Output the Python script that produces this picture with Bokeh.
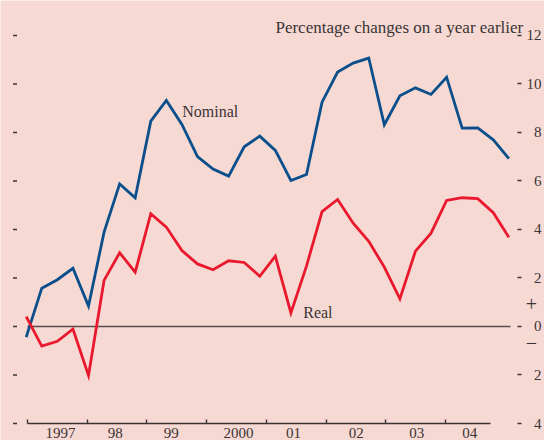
from bokeh.plotting import figure
from bokeh.models import FixedTicker, LinearAxis, Range1d, Label
from bokeh.embed import file_html
from bokeh.resources import INLINE

# ---- data (quarterly, % change on a year earlier) ----
quarters = [
    "1997Q1", "1997Q2", "1997Q3", "1997Q4",
    "1998Q1", "1998Q2", "1998Q3", "1998Q4",
    "1999Q1", "1999Q2", "1999Q3", "1999Q4",
    "2000Q1", "2000Q2", "2000Q3", "2000Q4",
    "2001Q1", "2001Q2", "2001Q3", "2001Q4",
    "2002Q1", "2002Q2", "2002Q3", "2002Q4",
    "2003Q1", "2003Q2", "2003Q3", "2003Q4",
    "2004Q1", "2004Q2", "2004Q3", "2004Q4",
]
nominal = [
    -0.44, 1.58, 1.93, 2.40, 0.84, 3.89, 5.88, 5.31,
    8.47, 9.32, 8.33, 7.01, 6.49, 6.20, 7.41, 7.85,
    7.26, 6.02, 6.27, 9.25, 10.49, 10.86, 11.07, 8.32,
    9.51, 9.84, 9.57, 10.28, 8.18, 8.19, 7.70, 6.92,
]
real = [
    0.41, -0.81, -0.61, -0.11, -2.02, 1.90, 3.04, 2.24,
    4.65, 4.10, 3.13, 2.58, 2.34, 2.71, 2.64, 2.07,
    2.90, 0.56, 2.49, 4.74, 5.24, 4.26, 3.51, 2.45,
    1.14, 3.11, 3.85, 5.20, 5.31, 5.27, 4.69, 3.68,
]
year_labels = ["1997", "98", "99", "2000", "01", "02", "03", "04"]
y_ticks = [-4, -2, 0, 2, 4, 6, 8, 10, 12]
y_tick_labels = ["\u20074", "\u20072", "\u20070", "\u20072", "\u20074",
                 "\u20076", "\u20078", "10", "12"]

# ---- layout / style (positions) ----
x_time = [int(q[:4]) + (int(q[5]) - 1) / 4 for q in quarters]
year_bounds = [1997.02, 1997.98, 1998.93, 1999.90, 2000.86, 2001.82, 2002.77, 2003.73]
label_centres = [1997.55, 1998.43, 1999.33, 2000.41, 2001.29, 2002.30, 2003.27, 2004.12]

BG = "#f7d9d4"
BLUE = "#0a4f8c"
RED = "#e9182d"
INK = "#3a3434"
FONT = "Liberation Serif"

p = figure(width=544, height=440,
           x_range=Range1d(1996.587, 2005.322), y_range=Range1d(-4.701, 13.443),
           output_backend="svg", toolbar_location=None,
           x_axis_location=None, y_axis_location=None,
           min_border_left=0, min_border_right=0, min_border_top=0, min_border_bottom=0,
           background_fill_color=BG, border_fill_color=BG, outline_line_color=None)
p.grid.visible = False

# left tick dashes
p.scatter(x=[1996.82] * len(y_ticks), y=y_ticks, marker="dash", size=4,
          line_color=INK, line_width=1.4)

# right axis with labels
right = LinearAxis(fixed_location=2004.889, ticker=FixedTicker(ticks=y_ticks, minor_ticks=[]),
                   axis_line_color=None, major_tick_out=4, major_tick_in=0,
                   major_tick_line_color=INK, major_tick_line_width=1.4,
                   major_label_overrides={t: l for t, l in zip(y_ticks, y_tick_labels)},
                   major_label_text_font=FONT, major_label_text_font_size="15px",
                   major_label_text_color=INK, major_label_standoff=5)
p.add_layout(right, "right")

# bottom axis
below = LinearAxis(fixed_location=-4, bounds=(1997.02, 2004.456),
                   ticker=FixedTicker(ticks=label_centres, minor_ticks=year_bounds),
                   axis_line_color=INK, axis_line_width=1.6,
                   major_tick_line_color=None, major_tick_in=0, major_tick_out=0,
                   minor_tick_line_color=INK, minor_tick_line_width=1.4,
                   minor_tick_in=4, minor_tick_out=0,
                   major_label_overrides={t: l for t, l in zip(label_centres, year_labels)},
                   major_label_text_font=FONT, major_label_text_font_size="15px",
                   major_label_text_color=INK, major_label_standoff=4)
p.add_layout(below, "below")

# zero line
p.segment(x0=[1997.02], x1=[2004.776], y0=[0], y1=[0], line_color="#5a4c4c", line_width=1.6)

p.line(x_time, nominal, line_color=BLUE, line_width=2.8, line_join="miter")
p.line(x_time, real, line_color=RED, line_width=2.8, line_join="miter")

p.add_layout(Label(x=2004.98, y=12.33, text="Percentage changes on a year earlier",
                   text_align="right", text_baseline="alphabetic",
                   text_font=FONT, text_font_size="17px", text_color=INK))
p.add_layout(Label(x=1999.505, y=8.87, text="Nominal", text_baseline="alphabetic",
                   text_font=FONT, text_font_size="16px", text_color=INK))
p.add_layout(Label(x=2001.448, y=0.59, text="Real", text_baseline="alphabetic",
                   text_font=FONT, text_font_size="16px", text_color=INK))
p.add_layout(Label(x=2005.113, y=0.91, text="+", text_align="center", text_baseline="middle",
                   text_font=FONT, text_font_size="20px", text_color=INK))
p.add_layout(Label(x=2005.113, y=-0.66, text="\u2212", text_align="center", text_baseline="middle",
                   text_font=FONT, text_font_size="20px", text_color=INK))

open("out.html", "w").write(file_html(p, INLINE))
